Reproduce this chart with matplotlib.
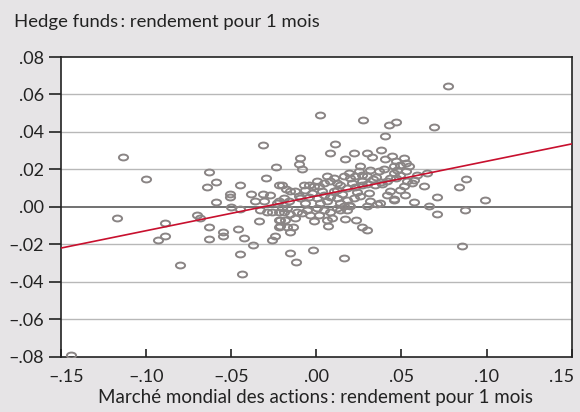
import matplotlib
matplotlib.use("Agg")
import matplotlib.pyplot as plt
from matplotlib.path import Path
from matplotlib.transforms import Affine2D, ScaledTranslation
from matplotlib.ticker import FixedLocator, FixedFormatter

title_text = "Hedge funds\u2009: rendement pour 1 mois"
xlabel_text = "Marché mondial des actions\u2009: rendement pour 1 mois"

x_ticks = [-0.15, -0.10, -0.05, 0.00, 0.05, 0.10, 0.15]
x_tick_labels = ["–.15", "–.10", "–.05", ".00", ".05", ".10", ".15"]
y_ticks = [-0.08, -0.06, -0.04, -0.02, 0.00, 0.02, 0.04, 0.06, 0.08]
y_tick_labels = ["–.08", "–.06", "–.04", "–.02", ".00", ".02", ".04", ".06", ".08"]

# regression line end points
reg_x = [-0.15, 0.15]
reg_y = [-0.0220, 0.0336]

# market return (x) and hedge fund return (y)
mkt = [
    -0.144, -0.1135, -0.100, -0.117, -0.0888, -0.0888, -0.0931, -0.080, -0.0702, -0.0682,
    -0.0645, -0.0633, -0.059, -0.059, -0.0633, -0.0633, -0.0549, -0.0549, -0.0506, -0.0506,
    -0.050, -0.0451, -0.0447, -0.0459, -0.0425, -0.0449, -0.0437, -0.0372, -0.0337, -0.0316,
    -0.0294, -0.0384, -0.0314, -0.0275, -0.0359, -0.031, -0.0329, -0.029, -0.026, -0.0237,
    -0.0222, -0.0231, -0.0222, -0.0222, -0.0241, -0.026, -0.0153, -0.0202, -0.0176, -0.0019,
    -0.0118, 0.0165, 0.0269, 0.0298, 0.0171, 0.0235, 0.0024, 0.0275, 0.0429, 0.0465,
    0.0406, 0.0112, 0.0078, 0.022, 0.0298, 0.0328, 0.038, -0.0094, 0.0166, -0.0104,
    -0.0084, 0.0406, 0.0773, 0.0694, 0.0445, 0.0514, 0.0465, 0.0529, 0.0494, 0.0543,
    0.0455, 0.0524, 0.0475, 0.0455, 0.0494, 0.0435, 0.0465, 0.0592, 0.0651, 0.0573,
    0.0534, 0.0563, 0.0631, 0.0514, 0.0494, 0.0882, 0.0837, 0.0455, 0.0518, 0.0573,
    0.0661, 0.0706, 0.0706, 0.0871, 0.0992, 0.0857,
    0.0259, 0.0318, 0.0367, 0.0396, 0.0249, 0.0269, 0.0298, 0.0229, 0.0190, 0.0160,
    0.0200, 0.0063, 0.0102, 0.0082, 0.0122, 0.0004, 0.0043, 0.0014, -0.0016, -0.0075,
    -0.0045, -0.0065, -0.0124, -0.0153, 0.0141, 0.0180, 0.0229, 0.0269, 0.0298, 0.0347,
    0.0386, 0.0416, 0.0351, 0.0378,
    0.0435, 0.0455, 0.0416, 0.0376, 0.0357, 0.0318, 0.0259, 0.0220, 0.0180, 0.0141,
    0.0190, 0.0200, 0.0180, 0.0141, 0.0161, 0.0122, 0.0082, 0.0043, 0.0004, 0.0298,
    -0.0084, -0.0114, -0.0055, -0.0035, -0.0016, 0.0014, -0.0124, -0.0137, -0.0153, 0.0063,
    0.0092, 0.0066, -0.0212, -0.0182, -0.0212, -0.0172, -0.0222, -0.0192, -0.0157, -0.0172,
    -0.0163, -0.0192, -0.0222, -0.0202,
    -0.0045, 0.0004, 0.0043, 0.0082, 0.0102, -0.0026, 0.0063, -0.0094, 0.0122, 0.0024,
    -0.0065, 0.0151, 0.0241, 0.0310, 0.0031, -0.0100, 0.0210, 0.0270, 0.0330, 0.0120,
]
hf = [
    -0.079, 0.0266, 0.0148, -0.006, -0.0087, -0.0153, -0.0176, -0.031, -0.0046, -0.006,
    0.0104, 0.0187, 0.0134, 0.0024, -0.0105, -0.0169, -0.0132, -0.0158, 0.0068, 0.0052,
    -0.0003, -0.0012, 0.0118, -0.0118, -0.0164, -0.0251, -0.0356, -0.0206, -0.0075, 0.033,
    0.0153, 0.007, 0.007, 0.0064, 0.0032, 0.0032, -0.0019, -0.003, -0.0025, 0.0212,
    0.0118, 0.002, -0.007, -0.0105, -0.0153, -0.0176, -0.0248, 0.0118, 0.0096, -0.0233,
    -0.0292, -0.0274, -0.0105, -0.0126, -0.0066, -0.007, 0.0492, 0.0464, 0.0439, 0.0451,
    0.0376, 0.0335, 0.029, 0.029, 0.029, 0.0264, 0.0305, 0.026, 0.0255, 0.023,
    0.0203, 0.0257, 0.0647, 0.0426, 0.027, 0.026, 0.0243, 0.0234, 0.0225, 0.0216,
    0.0216, 0.019, 0.0198, 0.018, 0.0171, 0.0153, 0.0153, 0.0171, 0.018, 0.0144,
    0.0136, 0.0127, 0.0112, 0.0109, 0.0091, 0.0148, 0.0105, 0.0041, 0.0064, 0.0024,
    0.0005, 0.0052, -0.0037, -0.0016, 0.0034, -0.0209,
    0.0216, 0.0198, 0.0190, 0.0203, 0.0190, 0.0171, 0.0163, 0.0163, 0.0180, 0.0163,
    0.0153, 0.0163, 0.0153, 0.0136, 0.0127, 0.0139, 0.0127, 0.0109, 0.0109, 0.0114,
    0.0114, 0.0091, 0.0082, 0.0082, 0.0118, 0.0100, 0.0104, 0.0114, 0.0121, 0.0114,
    0.0121, 0.0136, 0.0160, 0.0130,
    0.0082, 0.0037, 0.0064, 0.0020, 0.0016, 0.0029, 0.0059, 0.0046, 0.0037, 0.0020,
    0.0011, 0.0002, -0.0016, -0.0016, 0.0002, -0.0007, -0.0025, -0.0016, -0.0007, 0.0002,
    -0.0034, -0.0025, -0.0016, -0.0043, -0.0073, -0.0043, -0.0060, -0.0105, -0.0132, -0.0070,
    -0.0060, -0.0100, -0.0070, -0.0070, -0.0102, -0.0105, -0.0028, -0.0028, -0.0037, -0.0007,
    0.0029, 0.0046, 0.0029, -0.0007,
    0.0055, 0.0046, 0.0064, 0.0055, 0.0082, 0.0073, 0.0029, 0.0046, 0.0046, 0.0020,
    0.0020, 0.0070, 0.0080, 0.0075, 0.0085, 0.0060, 0.0125, 0.0140, 0.0150, 0.0090,
]

BG = "#e6e4e6"
GREY = "#8a8585"
RED = "#c8102e"
FONT = ["Lato", "DejaVu Sans"]

plt.rcParams["font.family"] = FONT

fig = plt.figure(figsize=(5.8, 4.12), dpi=100, facecolor=BG)
ax = fig.add_axes([61 / 580, 1 - 356.7 / 412, 510.7 / 580, 299.7 / 412])
ax.set_facecolor("white")

ax.set_xlim(-0.15, 0.15)
ax.set_ylim(-0.08, 0.08)

# horizontal grid
for yv in y_ticks:
    if abs(yv) < 1e-9:
        ax.axhline(yv, color="#4a4a4a", lw=1.1, zorder=1)
    elif abs(abs(yv) - 0.08) > 1e-9:
        ax.axhline(yv, color="#b8b8b8", lw=1.0, zorder=1)

ellipse = Path.unit_circle().transformed(Affine2D().scale(1.0, 0.64))
ax.plot(mkt, hf, linestyle="none", marker=ellipse, markersize=6.6,
        markerfacecolor="none", markeredgecolor=GREY, markeredgewidth=1.4, zorder=3)

ax.plot(reg_x, reg_y, color=RED, lw=1.2, zorder=4)

for s in ax.spines.values():
    s.set_color("#222222")
    s.set_linewidth(1.2)

ax.xaxis.set_major_locator(FixedLocator(x_ticks))
ax.xaxis.set_major_formatter(FixedFormatter(x_tick_labels))
ax.yaxis.set_major_locator(FixedLocator(y_ticks))
ax.yaxis.set_major_formatter(FixedFormatter(y_tick_labels))
ax.tick_params(axis="x", direction="in", length=6, width=1.2, color="#222222",
               labelsize=13, pad=9, labelcolor="#222222")
ax.tick_params(axis="y", direction="out", length=9, width=1.2, color="#222222",
               labelsize=13, pad=3, labelcolor="#222222")

fig.canvas.draw()
xlabels = ax.get_xticklabels()
xlabels[0].set_transform(xlabels[0].get_transform() + ScaledTranslation(5 / 100, 0, fig.dpi_scale_trans))
xlabels[-1].set_transform(xlabels[-1].get_transform() + ScaledTranslation(-10 / 100, 0, fig.dpi_scale_trans))

fig.text(14 / 580, 1 - 22 / 412, title_text, ha="left", va="center",
         fontsize=13.3, color="#222222")
fig.text(316 / 580, 1 - 398 / 412, xlabel_text, ha="center", va="center",
         fontsize=13.5, color="#222222")

fig.savefig("out.png", dpi=100, facecolor=BG)
